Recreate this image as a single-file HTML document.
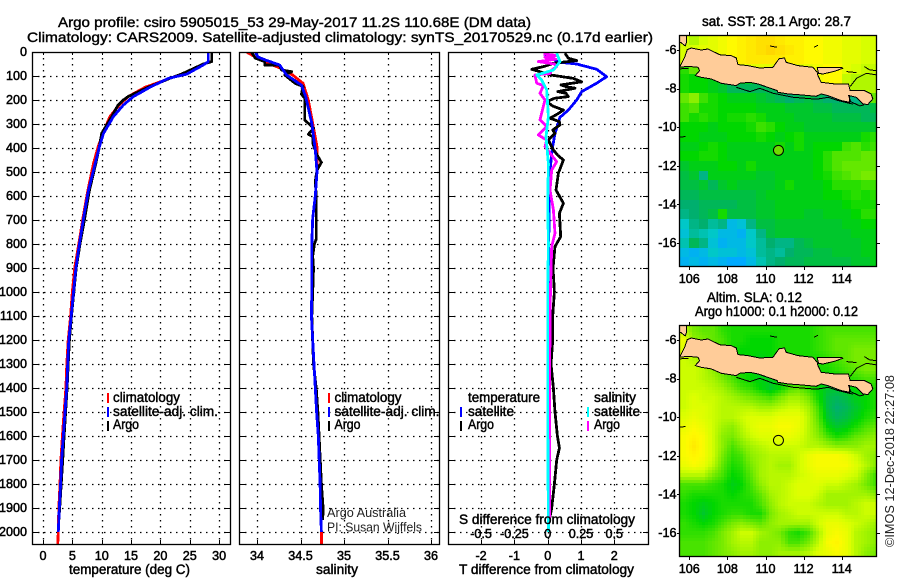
<!DOCTYPE html>
<html lang="en">
<head>
<meta charset="utf-8">
<title>Argo profile 5905015_53</title>
<style>
html,body{margin:0;padding:0;background:#fff;}
svg{display:block;}
text{font-family:"Liberation Sans",sans-serif;font-size:13.4px;fill:#000;}
.b{stroke:#000;stroke-width:.45px;}
.n{font-size:12.6px;stroke:#000;stroke-width:.5px;}
.t{font-size:14px;stroke:#000;stroke-width:.4px;}
.thin{font-size:12.6px;fill:#222;}
</style>
</head>
<body>
<svg id="fig" xmlns="http://www.w3.org/2000/svg" width="900" height="580" viewBox="0 0 900 580">
<rect width="900" height="580" fill="#fff"/>
<g id="maps"></g>
<g id="panels"></g>
<g id="labels"></g>

<text class="t" x="58" y="27" textLength="473" lengthAdjust="spacingAndGlyphs">Argo profile: csiro 5905015_53 29-May-2017 11.2S 110.68E (DM data)</text>
<text class="t" x="27" y="42" textLength="626" lengthAdjust="spacingAndGlyphs">Climatology: CARS2009. Satellite-adjusted climatology: synTS_20170529.nc (0.17d earlier)</text>

<text class="b" x="69" y="574" textLength="121" lengthAdjust="spacingAndGlyphs">temperature (deg C)</text>
<text class="b" x="316" y="574" textLength="42" lengthAdjust="spacingAndGlyphs">salinity</text>
<text class="b" x="459" y="574" textLength="175" lengthAdjust="spacingAndGlyphs">T difference from climatology</text>
<text class="b" x="459" y="524" textLength="176" lengthAdjust="spacingAndGlyphs">S difference from climatology</text>

<g>
<rect x="107" y="393" width="2" height="10" fill="#f00"/>
<text class="b" x="113" y="402" textLength="67" lengthAdjust="spacingAndGlyphs">climatology</text>
<rect x="107" y="407" width="2" height="10" fill="#00f"/>
<text class="b" x="113" y="416" textLength="105" lengthAdjust="spacingAndGlyphs">satellite-adj. clim.</text>
<rect x="107" y="421" width="2" height="10" fill="#000"/>
<text class="b" x="113" y="429" textLength="26" lengthAdjust="spacingAndGlyphs">Argo</text>
</g>
<g>
<rect x="328" y="393" width="2" height="10" fill="#f00"/>
<text class="b" x="334.5" y="402" textLength="67" lengthAdjust="spacingAndGlyphs">climatology</text>
<rect x="328" y="407" width="2" height="10" fill="#00f"/>
<text class="b" x="334.5" y="416" textLength="105" lengthAdjust="spacingAndGlyphs">satellite-adj. clim.</text>
<rect x="328" y="421" width="2" height="10" fill="#000"/>
<text class="b" x="334.5" y="429" textLength="26" lengthAdjust="spacingAndGlyphs">Argo</text>
</g>
<g>
<text class="b" x="468" y="402" textLength="72" lengthAdjust="spacingAndGlyphs">temperature</text>
<rect x="460" y="407" width="2" height="10" fill="#00f"/>
<text class="b" x="468" y="416" textLength="46" lengthAdjust="spacingAndGlyphs">satellite</text>
<rect x="460" y="421" width="2" height="10" fill="#000"/>
<text class="b" x="468" y="429" textLength="26" lengthAdjust="spacingAndGlyphs">Argo</text>
<text class="b" x="594" y="402" textLength="42" lengthAdjust="spacingAndGlyphs">salinity</text>
<rect x="587" y="407" width="2" height="10" fill="#0ff"/>
<text class="b" x="594" y="416" textLength="46" lengthAdjust="spacingAndGlyphs">satellite</text>
<rect x="587" y="421" width="2" height="10" fill="#f0f"/>
<text class="b" x="594" y="429" textLength="26" lengthAdjust="spacingAndGlyphs">Argo</text>
</g>

<text class="thin" x="327" y="517" textLength="79" lengthAdjust="spacingAndGlyphs">Argo Australia</text>
<text class="thin" x="327" y="531.5" textLength="95" lengthAdjust="spacingAndGlyphs">PI: Susan Wijffels</text>

<text class="b" x="702" y="26" textLength="149" lengthAdjust="spacingAndGlyphs">sat. SST: 28.1 Argo: 28.7</text>
<text class="b" x="707" y="302" textLength="95" lengthAdjust="spacingAndGlyphs">Altim. SLA: 0.12</text>
<text class="b" x="695" y="316" textLength="163" lengthAdjust="spacingAndGlyphs">Argo h1000: 0.1 h2000: 0.12</text>
<text class="thin" transform="translate(894,547) rotate(-90)" textLength="172" lengthAdjust="spacingAndGlyphs">©IMOS 12-Dec-2018 22:27:08</text>
</svg>

<script>
// ---------- profile data ----------
const depthTicks = [0,100,200,300,400,500,600,700,800,900,1000,1100,1200,1300,1400,1500,1600,1700,1800,1900,2000];
const tempTicks = [0,5,10,15,20,25,30];
const salTicks = [34,34.5,35,35.5,36];
const salTickLabels = ['34','34.5','35','35.5','36'];
const tDiffTicks = [-2,-1,0,1,2];
const sDiffTicks = [-0.5,-0.25,0,0.25,0.5];
const sDiffTickLabels = ['-0.5','-0.25','0','0.25','0.5'];

const climTempDepth = [0,40,54,92,147,186,221,269,339,394,464,582,693,800,900,1000,1100,1200,1300,1400,1500,1600,1700,1800,1900,2000,2054];
const climTemp = [28.16,28.16,27.3,23.6,17.4,14.5,13,11.4,10.2,9.4,8.6,7.6,6.8,6.1,5.4,5.0,4.7,4.3,4.05,3.9,3.6,3.3,3.05,2.9,2.7,2.6,2.5];
const satTempDepth = [0,40,54,92,110,147,186,221,269,339,394,464,582,693,800,900,1000,1100,1200,1300,1400,1500,1600,1700,1800,1900,2000];
const satTemp = [28.16,28.16,27.3,24.5,21.35,18.2,15.4,13.7,12,10.3,9.6,8.9,7.7,6.9,6.2,5.6,5.2,4.8,4.4,4.2,4.03,3.75,3.46,3.17,3.0,2.78,2.6];
const argoTempDepth = [0,40,50,92,110,147,186,200,221,269,339,394,464,582,693,800,900,1000,1100,1200,1300,1400,1500,1600,1700,1800,1900,1950];
const argoTemp = [28.74,28.74,27.3,23.6,21.6,17.9,14.5,13.7,12.8,11.7,10,9.6,9.0,7.85,7.1,6.3,5.65,5.25,4.85,4.5,4.3,4.1,3.85,3.6,3.35,3.1,2.85,2.7];

const climSalDepth = [0,25,45,66,96,131,200,297,395,500,600,693,800,900,1000,1100,1200,1300,1400,1500,1600,1700,1800,1900,2000,2054];
const climSal = [33.88,34.0,34.11,34.26,34.41,34.53,34.59,34.64,34.69,34.69,34.67,34.64,34.63,34.63,34.63,34.63,34.64,34.655,34.67,34.685,34.705,34.715,34.725,34.73,34.74,34.74];
const satSalDepth = [0,21,35,54,96,138,186,297,408,500,600,693,800,900,1000,1100,1200,1300,1400,1500,1600,1700,1800,1900,2000];
const satSal = [33.98,34.01,34.11,34.26,34.34,34.51,34.56,34.63,34.67,34.69,34.67,34.64,34.63,34.63,34.63,34.625,34.64,34.655,34.67,34.685,34.705,34.715,34.725,34.73,34.74];
const argoSalDepth = [2,26,40,54,55,75,82,96,131,144,176,193,283,318,343,353,380,429,460,492,540,600,693,780,800,850,900,1000,1100,1300,1400,1500,1800,1900,1950];
const argoSal = [33.94,33.98,34.09,34.09,34.26,34.28,34.40,34.32,34.44,34.53,34.51,34.55,34.55,34.65,34.59,34.64,34.64,34.69,34.74,34.69,34.67,34.68,34.68,34.68,34.66,34.64,34.65,34.64,34.63,34.65,34.68,34.70,34.74,34.76,34.755];

const satDiffTDepth = [5,20,43,50,72,103,130,165,200,242,272,339,401,492,603,797,1000,1300,1600,2000];
const satDiffT = [-0.08,-0.03,0.37,0.87,1.47,1.77,1.47,1.02,0.87,0.62,0.37,0.22,0.14,0.07,0.05,0.03,0.04,0.06,0.05,0.03];
const argoDiffTDepth = [5,26,36,47,60,72,82,96,110,124,137,144,151,165,172,186,193,207,225,242,258,276,290,304,325,339,367,408,430,450,505,575,630,672,769,811,900,1000,1100,1200,1300,1400,1500,1600,1650,1700,1800,1900,1950];
const argoDiffT = [0.52,0.62,0.87,0.17,-0.1,-0.48,-0.23,0.1,0.77,1.02,0.4,0.55,0.82,0.3,0.55,0.62,0.2,-0.03,0.15,0.47,0.3,0.07,0.35,0.37,0.15,0.22,0.02,0.17,0.3,0.47,0.32,0.25,0.47,0.35,0.39,0.22,0.16,0.2,0.15,0.15,0.1,0.17,0.22,0.29,0.35,0.27,0.2,0.12,0.05];
const satDiffSDepth = [5,40,75,96,117,158,269,353,464,630,800,1000,1500,2000];
const satDiffS = [0.0675,0.0925,0.0425,-0.0825,-0.045,-0.0075,0.005,-0.0125,0.005,0,0.005,0,0,0.005];
const argoDiffSDepth = [8,15,22,30,40,50,61,75,89,96,130,140,172,200,283,311,346,367,394,457,492,575,658,756,811,1000,1300,1600,1950];
const argoDiffS = [-0.0325,0.0675,-0.02,0.06,-0.07,0.05,0.0675,0.03,0.0175,-0.095,-0.0825,-0.0325,-0.0575,-0.02,-0.0575,-0.0075,-0.07,-0.0075,-0.02,0.0675,0.03,0.0175,0.0425,0.055,0.03,0.02,0.015,0.015,0.015];

// ---------- map data ----------
const lonTicks = [106,108,110,112,114];
const latTicks = [-6,-8,-10,-12,-14,-16];
const floatLon = 110.68;
const floatLat = -11.2;
const gridLonStart = 105.5;
const gridLatStart = -5.25;

const sstRows = [
[29.2,29.0,29.2,29.3,29.4,29.5,29.6,29.7,29.8,29.8,29.7,29.6,29.6,29.5,29.5,29.4,29.4,29.3,29.3,29.2,29.2],
[29.2,29.2,29.3,29.3,29.4,29.5,29.6,29.7,29.8,29.9,29.8,29.7,29.6,29.5,29.5,29.4,29.4,29.3,29.3,29.2,29.2],
[29.2,29.3,29.3,29.4,29.4,29.5,29.6,29.7,29.7,29.7,29.7,29.6,29.6,29.5,29.5,29.4,29.4,29.3,29.3,29.2,29.2],
[28.3,28.6,29.3,29.3,29.3,29.3,29.3,29.3,29.3,29.3,29.3,29.3,29.3,29.3,29.4,29.5,29.5,29.3,29.2,29.1,29.1],
[28.2,28.1,28.1,28.0,28.0,28.0,28.0,28.0,28.0,28.0,28.0,28.0,28.0,28.0,29.4,29.5,29.5,29.1,29.0,29.0,29.0],
[28.2,28.1,28.1,28.0,27.9,27.7,27.7,27.7,27.7,27.7,27.7,27.8,27.8,27.8,27.8,27.8,27.8,29.0,29.0,29.0,29.0],
[28.6,28.8,28.4,28.2,28.1,28.0,28.0,28.0,27.9,27.8,27.7,27.6,27.7,27.8,27.7,27.6,27.6,27.6,27.5,28.2,28.6],
[28.4,28.5,28.2,28.2,28.1,28.1,28.1,28.1,28.0,28.0,28.0,27.9,27.9,27.9,27.8,27.8,27.7,27.7,27.7,27.7,27.8],
[28.4,28.2,28.3,28.2,28.1,28.2,28.2,28.3,28.2,28.0,28.0,28.0,27.9,27.9,27.9,27.9,27.8,27.8,27.8,27.7,27.7],
[28.1,28.1,28.1,28.0,28.1,28.1,28.1,28.2,28.4,28.3,28.1,28.0,28.0,27.9,27.9,27.9,27.9,27.9,27.9,27.9,27.9],
[28.1,28.1,28.0,28.0,28.0,28.1,28.1,28.1,28.2,28.1,28.0,28.1,28.2,28.0,28.0,28.0,28.0,28.0,28.0,28.2,28.3],
[28.0,28.0,28.1,28.2,28.1,28.0,28.0,28.0,28.0,28.0,28.2,28.0,28.2,28.0,28.1,28.1,28.1,28.4,28.5,28.3,28.4],
[28.1,28.1,28.2,28.2,28.1,28.0,28.0,28.0,28.0,28.0,28.0,28.0,28.0,28.0,28.1,28.3,28.5,28.5,28.5,28.6,28.6],
[27.9,28.0,28.0,28.0,28.1,28.1,28.0,28.2,28.0,28.0,28.0,28.0,28.0,28.0,28.1,28.3,28.5,28.6,28.6,28.6,28.6],
[27.8,27.9,27.5,28.0,28.0,28.0,28.0,28.0,27.9,27.9,28.0,28.0,28.0,28.0,28.1,28.2,28.4,28.5,28.6,28.7,28.7],
[27.8,27.8,27.9,27.7,27.9,28.0,27.9,27.9,27.9,27.9,28.0,28.2,28.0,28.0,28.0,28.1,28.3,28.3,28.3,28.4,28.4],
[27.7,27.7,27.8,27.8,27.8,27.8,27.8,27.8,27.9,28.0,28.0,28.0,28.0,28.0,28.0,28.1,28.1,28.2,28.3,28.2,28.3],
[27.6,27.6,27.7,27.7,27.7,27.7,27.8,27.8,27.9,27.9,28.0,28.0,28.0,28.0,28.0,28.0,28.0,28.1,28.2,28.2,28.2],
[27.5,27.6,27.7,27.8,28.2,27.8,27.8,27.8,27.9,27.9,28.0,28.0,28.0,27.9,27.9,28.0,28.0,28.0,28.1,28.3,28.3],
[27.2,27.5,27.6,27.4,27.5,27.0,27.1,27.5,27.8,27.8,27.9,27.9,27.9,27.9,27.9,27.9,27.9,28.0,28.0,28.1,28.1],
[27.1,27.4,27.3,27.2,27.0,27.0,26.9,27.2,27.5,27.8,27.9,27.9,27.9,27.9,27.9,27.9,27.9,27.9,28.0,28.0,28.0],
[27.3,27.7,27.5,27.1,26.9,27.0,27.0,27.2,27.4,27.6,27.5,27.5,27.7,27.8,27.9,27.9,27.9,27.9,27.9,28.0,28.0],
[27.0,26.9,27.0,27.2,27.1,27.1,27.0,27.1,27.4,27.5,27.4,27.6,27.7,27.7,27.8,27.8,27.9,27.9,27.9,28.0,28.0],
[26.9,27.0,26.9,27.0,26.9,26.8,26.8,27.0,27.3,27.5,27.6,27.7,27.7,27.8,27.8,27.8,27.8,27.8,27.9,27.9,28.0]
];
const slaRows = [
[.1,.07,.06,.06,.04,.03,.03,.03,.03,.03,.03,.03,.03,.03,.04,.05,.05,.05,.05,.05,.05],
[.13,.08,.07,.06,.05,.03,.03,.02,.02,.02,.03,.03,.03,.03,.04,.05,.06,.06,.06,.06,.06],
[.12,.1,.07,.06,.05,.03,.02,.02,.02,.02,.03,.03,.03,.03,.04,.05,.06,.06,.07,.07,.07],
[.11,.1,.08,.06,.05,.03,.02,.02,.01,.02,.03,.03,.03,.03,.03,.04,.05,.06,.07,.07,.07],
[.11,.11,.1,.08,.06,.04,.03,.02,.01,.02,.03,.03,.03,.03,.03,.03,.04,.05,.06,.07,.07],
[.11,.11,.1,.09,.07,.05,.03,.02,.01,.01,.02,.03,.04,.03,.02,.02,.02,.03,.04,.05,.05],
[.11,.11,.11,.1,.09,.07,.05,.04,.02,0,.02,.05,.06,.04,.02,0,0,.01,.02,.03,.03],
[.11,.12,.11,.11,.1,.09,.08,.07,.06,.05,.07,.09,.09,.07,.03,-.01,-.02,-.01,.01,.02,.03],
[.11,.12,.12,.11,.1,.1,.1,.1,.09,.09,.1,.11,.11,.09,.05,-.01,-.03,-.02,0,.02,.03],
[.12,.13,.12,.11,.1,.1,.11,.12,.12,.12,.13,.13,.13,.1,.06,0,-.02,-.01,.01,.03,.04],
[.13,.14,.13,.11,.09,.08,.1,.12,.13,.13,.14,.14,.13,.1,.07,.02,0,.01,.03,.05,.06],
[.14,.15,.14,.11,.08,.07,.09,.11,.12,.12,.13,.13,.12,.1,.08,.05,.03,.04,.06,.07,.08],
[.14,.16,.14,.11,.08,.05,.07,.09,.1,.11,.11,.11,.11,.1,.1,.09,.08,.08,.08,.09,.09],
[.14,.15,.14,.11,.07,.04,.05,.08,.09,.1,.1,.1,.11,.13,.14,.14,.14,.13,.11,.09,.08],
[.13,.14,.13,.1,.06,.03,.04,.07,.09,.1,.09,.09,.11,.13,.14,.14,.14,.14,.12,.1,.08],
[.1,.1,.1,.07,.05,.02,.03,.06,.09,.1,.1,.1,.11,.12,.13,.13,.13,.12,.11,.08,.05],
[.05,.05,.05,.04,.03,.01,.02,.05,.08,.1,.1,.11,.12,.12,.12,.11,.11,.1,.09,.07,.05],
[.04,.03,.03,.03,.03,.02,.03,.04,.06,.09,.1,.11,.12,.12,.11,.09,.09,.09,.09,.09,.08],
[.03,.02,.01,.02,.03,.03,.03,.03,.05,.08,.1,.11,.11,.11,.1,.09,.09,.09,.1,.11,.11],
[.03,.02,0,.02,.03,.04,.04,.03,.03,.07,.09,.1,.11,.11,.11,.11,.11,.1,.1,.11,.11],
[.04,.03,.02,.03,.05,.07,.08,.07,.06,.08,.09,.09,.09,.09,.11,.13,.13,.12,.11,.1,.09],
[.04,.04,.04,.05,.07,.09,.11,.11,.09,.08,.07,.04,.03,.05,.09,.13,.14,.13,.1,.09,.08],
[.05,.05,.05,.06,.07,.09,.1,.1,.08,.08,.08,.05,.05,.07,.1,.14,.15,.13,.1,.09,.08],
[.05,.05,.05,.06,.07,.08,.09,.09,.08,.08,.09,.09,.09,.1,.12,.13,.14,.13,.1,.08,.07]
];
const sstStopValues = [26.3,26.8,27.2,27.6,28.1,28.7,29.2,29.5,29.9];
const slaStopValues = [-0.12,-0.09,-0.06,-0.03,0.02,0.07,0.115,0.145,0.18];
const stopColors = [[0,0,255],[0,170,255],[0,200,200],[0,175,110],[0,215,0],[120,235,0],[215,255,0],[255,250,0],[255,215,0]];

// coast geometry in degrees [lon,lat]
const geoA = (z) => z.map(p => [106 + (p[0]-88)/57.2, -6 - (p[1]-120)/58]);
const javaOutline = geoA([[59,172],[74,142],[82,119],[94,114],[124,120],[144,117],[179,134],[214,137],[229,144],[234,164],[264,167],[299,174],[339,172],[352,154],[358,146],[374,144],[379,157],[414,167],[459,172],[472,187],[474,197],[484,217],[524,222],[566,222],[571,242],[614,242],[634,252],[639,267],[624,284],[609,282],[589,262],[569,257],[569,277],[544,272],[504,257],[484,252],[469,259],[424,255],[384,252],[354,247],[352,242],[294,222],[269,217],[239,220],[229,227],[184,220],[154,207],[124,202],[106,197],[119,182],[114,172],[84,169]]);
const maduraOutline = geoA([[472,172],[544,172],[549,175],[524,184],[489,192],[476,190]]);
const sumatraOutline = geoA([[58,75],[80,75],[80,95],[76,108],[62,97],[58,100]]);
const outerCoastA = geoA([[229,232],[270,245],[300,235],[340,250],[400,262],[470,268],[505,262],[535,272],[580,283]]);
const outerCoastB = geoA([[571,230],[590,205],[620,190],[652,195]]);
const outerCoastC = geoA([[566,255],[572,275],[600,288],[612,285]]);
const outerCoastD = geoA([[614,170],[630,180],[652,182]]);
const outerCoastE = geoA([[58,178],[70,175],[85,176]]);
const isletA = geoA([[330,108],[352,112]]);
const isletB = geoA([[462,112],[474,106]]);
const isletC = geoA([[560,185],[590,188]]);
const isletD = geoA([[60,382],[76,380]]);

// ---------- drawing ----------
const NS = 'http://www.w3.org/2000/svg';
function mk(tag, attrs, parent){
  const e = document.createElementNS(NS, tag);
  for (const k in attrs) e.setAttribute(k, attrs[k]);
  parent.appendChild(e);
  return e;
}
const panelsG = document.getElementById('panels');
const labelsG = document.getElementById('labels');
const mapsG = document.getElementById('maps');
const defs = mk('defs', {}, panelsG);



const yTop = 52, yBottom = 545;
const yDepth = d => yTop + d * 0.24;
const xTemp = t => 43 + t * 5.87;
const xSal = s => 257 + (s - 34) * 87;
const xTDiff = v => 547.7 + v * 33.3;
const xSDiff = v => 547.7 + v * 133.2;

function polyline(depths, values, xf, color, name, parent){
  const pts = depths.map((d,i) => xf(values[i]).toFixed(1) + ',' + yDepth(d).toFixed(1)).join(' ');
  const el = mk('polyline', {points: pts, fill:'none', stroke: color, 'stroke-width': 2.8, 'shape-rendering':'crispEdges', 'stroke-linejoin':'round'}, parent);
  
  
}

function panel(name, left, right, xVals, xf){
  const g = mk('g', {}, panelsG);
  
  
  const cp = mk('clipPath', {id: 'clip-' + name}, defs);
  
  
  const cr = mk('rect', {x:left, y:yTop, width:right-left, height:yBottom-yTop}, cp);
  
  
  depthTicks.forEach(d => {
    if (d === 0) return;
    const y = Math.round(yDepth(d)) + .5;
    const l = mk('line', {x1:left, x2:right, y1:y, y2:y, stroke:'#000', 'stroke-width':1.3, 'stroke-dasharray':'1.5 4.5'}, g);
    
    
    const t1 = mk('line', {x1:left, x2:left+6, y1:y, y2:y, stroke:'#000', 'stroke-width':1}, g);
    
    
    const t2 = mk('line', {x1:right-6, x2:right, y1:y, y2:y, stroke:'#000', 'stroke-width':1}, g);
    
    
  });
  xVals.forEach(v => {
    const x = Math.round(xf(v)) + .5;
    const l = mk('line', {x1:x, x2:x, y1:yTop, y2:yBottom, stroke:'#000', 'stroke-width':1.3, 'stroke-dasharray':'1.5 4.5'}, g);
    
    
    const t1 = mk('line', {x1:x, x2:x, y1:yBottom-5, y2:yBottom, stroke:'#000', 'stroke-width':1}, g);
    
    
    const t2 = mk('line', {x1:x, x2:x, y1:yTop, y2:yTop+3, stroke:'#000', 'stroke-width':1}, g);
    
    
  });
  const series = mk('g', {'clip-path': 'url(#clip-' + name + ')'}, g);
  
  
  const frame = mk('rect', {x:left+.5, y:yTop+.5, width:right-left-1, height:yBottom-yTop-1, fill:'none', stroke:'#000', 'stroke-width':1.3}, g);
  
  
  return series;
}

function label(text, x, y, anchor, name){
  const t = mk('text', {x:x, y:y, 'text-anchor':anchor, class:'n'}, labelsG);
  t.textContent = text;
  
  
}

const s1 = panel('temperature-panel', 32, 231, tempTicks, xTemp);
polyline(climTempDepth, climTemp, xTemp, '#f00', 'temperature-climatology-line', s1);
polyline(argoTempDepth, argoTemp, xTemp, '#000', 'temperature-argo-line', s1);
polyline(satTempDepth, satTemp, xTemp, '#00f', 'temperature-satellite-line', s1);

const s2 = panel('salinity-panel', 239, 440, salTicks, xSal);
polyline(climSalDepth, climSal, xSal, '#f00', 'salinity-climatology-line', s2);
polyline(argoSalDepth, argoSal, xSal, '#000', 'salinity-argo-line', s2);
polyline(satSalDepth, satSal, xSal, '#00f', 'salinity-satellite-line', s2);

const s3 = panel('difference-panel', 448, 649, tDiffTicks, xTDiff);
polyline(satDiffTDepth, satDiffT, xTDiff, '#00f', 't-difference-satellite-line', s3);
polyline(argoDiffTDepth, argoDiffT, xTDiff, '#000', 't-difference-argo-line', s3);
polyline(argoDiffSDepth, argoDiffS, xSDiff, '#f0f', 's-difference-argo-line', s3);
polyline(satDiffSDepth, satDiffS, xSDiff, '#0ff', 's-difference-satellite-line', s3);

depthTicks.forEach(d => label(String(d), 27, yDepth(d) + 4, 'end', 'depth-tick-label'));
tempTicks.forEach(v => label(String(v), xTemp(v), 560, 'middle', 'temperature-tick-label'));
salTicks.forEach((v,i) => label(salTickLabels[i], xSal(v), 560, 'middle', 'salinity-tick-label'));
tDiffTicks.forEach(v => label(String(v), xTDiff(v), 560, 'middle', 't-difference-tick-label'));
sDiffTicks.forEach((v,i) => label(sDiffTickLabels[i], xSDiff(v), 538, 'middle', 's-difference-tick-label'));

// maps
const mapLeft = 679, mapRight = 877, mapHeight = 232;
const xLon = lon => 689.3 + (lon - 106) * 19.05;
function colorFor(v, stops){
  if (v <= stops[0]) return 'rgb(' + stopColors[0].join(',') + ')';
  for (let i = 1; i < stops.length; i++){
    if (v <= stops[i]){
      const f = (v - stops[i-1]) / (stops[i] - stops[i-1]);
      const a = stopColors[i-1], b = stopColors[i];
      return 'rgb(' + a.map((c,k) => Math.round(c + (b[k]-c)*f)).join(',') + ')';
    }
  }
  return 'rgb(' + stopColors[stopColors.length-1].join(',') + ')';
}
// value at a fractional grid position, used to paint smooth fields
function sampleField(rows, rf, cf){
  const nr = rows.length, nc = rows[0].length;
  const r = Math.max(0, Math.min(nr - 1, rf));
  const c = Math.max(0, Math.min(nc - 1, cf));
  const r0 = Math.floor(r), c0 = Math.floor(c);
  const r1 = Math.min(nr - 1, r0 + 1), c1 = Math.min(nc - 1, c0 + 1);
  const fr = r - r0, fc = c - c0;
  return (rows[r0][c0]*(1-fc) + rows[r0][c1]*fc)*(1-fr) + (rows[r1][c0]*(1-fc) + rows[r1][c1]*fc)*fr;
}

function drawMap(name, top, rows, stops, markerFill, sub){
  const yLat = lat => top + 15 + (-6 - lat) * 19.3;
  const g = mk('g', {}, mapsG);
  
  
  const cp = mk('clipPath', {id:'clip-' + name}, g);
  
  
  const cr = mk('rect', {x:mapLeft, y:top, width:mapRight-mapLeft, height:mapHeight}, cp);
  
  
  const inner = mk('g', {'clip-path':'url(#clip-' + name + ')'}, g);
  
  
  const step = 0.5 / sub;
  rows.forEach((row, r) => row.forEach((v, c) => {
    for (let i = 0; i < sub; i++) for (let j = 0; j < sub; j++){
      const lon0 = gridLonStart + c * 0.5 + j * step, lat0 = gridLatStart - r * 0.5 - i * step;
      const x0 = Math.round(xLon(lon0)), x1 = Math.round(xLon(lon0 + step));
      const y0 = Math.round(yLat(lat0)), y1 = Math.round(yLat(lat0 - step));
      const val = sub === 1 ? v : sampleField(rows, r + (i + .5)/sub - .5, c + (j + .5)/sub - .5);
      const cell = mk('rect', {x:x0, y:y0, width:x1-x0, height:y1-y0, fill:colorFor(val, stops), 'shape-rendering':'crispEdges'}, inner);
      
      
    }
  }));
  const toPts = arr => arr.map(p => xLon(p[0]).toFixed(1) + ',' + yLat(p[1]).toFixed(1)).join(' ');
  [javaOutline, maduraOutline, sumatraOutline].forEach(o => {
    const land = mk('polygon', {points:toPts(o), fill:'#ffcc99', stroke:'#000', 'stroke-width':1, 'shape-rendering':'crispEdges'}, inner);
    
    
  });
  [outerCoastA, outerCoastB, outerCoastC, outerCoastD, outerCoastE, isletA, isletB, isletC, isletD].forEach(o => {
    const c = mk('polyline', {points:toPts(o), fill:'none', stroke:'#000', 'stroke-width':1, 'shape-rendering':'crispEdges'}, inner);
    
    
  });
  const marker = mk('circle', {cx:xLon(floatLon), cy:yLat(floatLat), r:5, fill:markerFill, stroke:'#000', 'stroke-width':1}, g);
  
  
  const frame = mk('rect', {x:mapLeft+.5, y:top+.5, width:mapRight-mapLeft-1, height:mapHeight-1, fill:'none', stroke:'#000', 'stroke-width':1.3}, g);
  
  
  lonTicks.forEach(v => {
    const x = Math.round(xLon(v)) + .5;
    const a = mk('line', {x1:x, x2:x, y1:top-3, y2:top, stroke:'#000'}, g);
    
    
    const b = mk('line', {x1:x, x2:x, y1:top+mapHeight, y2:top+mapHeight+3, stroke:'#000'}, g);
    
    
    const t = mk('text', {x:xLon(v), y: top + mapHeight + 16, 'text-anchor':'middle', class:'n'}, g);
    t.textContent = String(v);
    
    
  });
  latTicks.forEach(v => {
    const y = Math.round(yLat(v)) + .5;
    const a = mk('line', {x1:mapRight, x2:mapRight+3, y1:y, y2:y, stroke:'#000'}, g);
    
    
    const b = mk('line', {x1:mapLeft-2, x2:mapLeft, y1:y, y2:y, stroke:'#000'}, g);
    
    
    const t = mk('text', {x:676.5, y:yLat(v)+4, 'text-anchor':'end', class:'n'}, g);
    t.textContent = String(v);
    
    
  });
}
drawMap('sst-map', 35, sstRows, sstStopValues, '#6edc00', 1);
drawMap('sla-map', 325, slaRows, slaStopValues, 'none', 3);
</script>
</body>
</html>
